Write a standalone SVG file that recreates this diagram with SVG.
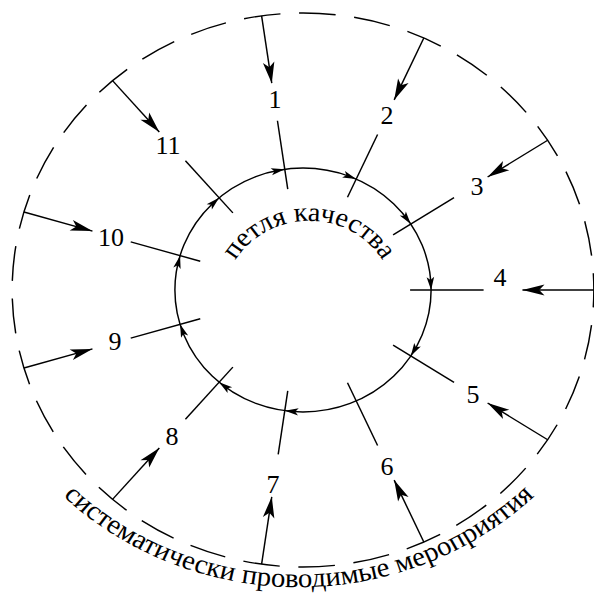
<svg xmlns="http://www.w3.org/2000/svg" xmlns:xlink="http://www.w3.org/1999/xlink" width="594" height="595" viewBox="0 0 594 595">
<style>
.ln{stroke:#000;stroke-width:1.4;fill:none}
.dash{stroke:#000;stroke-width:1.4;fill:none;stroke-dasharray:35 17.74;stroke-dashoffset:17.5}
.t{font-family:"Liberation Serif","Times New Roman",serif;fill:#000}
.num{font-size:26px;text-anchor:middle}
</style>
<defs>
<marker id="a" markerUnits="userSpaceOnUse" orient="auto" markerWidth="30" markerHeight="20" refX="0" refY="0" overflow="visible">
<path d="M0,0 L-21,-5.5 L-16,0 L-21,5.5 Z" fill="#000"/>
</marker>
<path id="sa" d="M0,0 L-13,-3.6 L-10,0 L-13,3.6 Z" fill="#000"/>
<path id="innerTextPath" d="M-76.3,12.8 A82,82 0 0 1 87.7,12.8"/>
<path id="outerTextPath" d="M-326,-24.8 A322,322 0 0 0 318,-24.8"/>
</defs>
<rect width="594" height="595" fill="#fff"/>
<g transform="translate(303,290) scale(1.05,1)">
<g id="ring">
<circle class="dash" cx="0" cy="0" r="277"/>
<text class="t" font-size="27.5"><textPath href="#outerTextPath" xlink:href="#outerTextPath" startOffset="50%" text-anchor="middle">систематически проводимые мероприятия</textPath></text>
</g>
<g id="loop">
<circle class="ln" cx="0" cy="0" r="122"/>
<use href="#sa" xlink:href="#sa" transform="rotate(-8.182) translate(0,-122) rotate(-3)"/>
<use href="#sa" xlink:href="#sa" transform="rotate(24.545) translate(0,-122) rotate(-3)"/>
<use href="#sa" xlink:href="#sa" transform="rotate(57.273) translate(0,-122) rotate(-3)"/>
<use href="#sa" xlink:href="#sa" transform="rotate(90) translate(0,-122) rotate(-3)"/>
<use href="#sa" xlink:href="#sa" transform="rotate(122.727) translate(0,-122) rotate(-3)"/>
<use href="#sa" xlink:href="#sa" transform="rotate(188.182) translate(0,-122) rotate(-3)"/>
<use href="#sa" xlink:href="#sa" transform="rotate(220.909) translate(0,-122) rotate(-3)"/>
<use href="#sa" xlink:href="#sa" transform="rotate(253.636) translate(0,-122) rotate(-3)"/>
<use href="#sa" xlink:href="#sa" transform="rotate(286.364) translate(0,-122) rotate(-3)"/>
<use href="#sa" xlink:href="#sa" transform="rotate(319.091) translate(0,-122) rotate(-3)"/>
<text class="t" font-size="27"><textPath href="#innerTextPath" xlink:href="#innerTextPath" startOffset="50%" text-anchor="middle">петля качества</textPath></text>
</g>
<g id="connectors">
<g transform="rotate(-8.182)"><line class="ln" x1="0" y1="-277" x2="0" y2="-209" marker-end="url(#a)"/><line class="ln" x1="0" y1="-171" x2="0" y2="-102"/></g>
<g transform="rotate(24.545)"><line class="ln" x1="0" y1="-277" x2="0" y2="-209" marker-end="url(#a)"/><line class="ln" x1="0" y1="-171" x2="0" y2="-102"/></g>
<g transform="rotate(57.273)"><line class="ln" x1="0" y1="-277" x2="0" y2="-209" marker-end="url(#a)"/><line class="ln" x1="0" y1="-171" x2="0" y2="-102"/></g>
<g transform="rotate(90)"><line class="ln" x1="0" y1="-277" x2="0" y2="-209" marker-end="url(#a)"/><line class="ln" x1="0" y1="-172" x2="0" y2="-102"/></g>
<g transform="rotate(122.727)"><line class="ln" x1="0" y1="-277" x2="0" y2="-209" marker-end="url(#a)"/><line class="ln" x1="0" y1="-171" x2="0" y2="-102"/></g>
<g transform="rotate(155.455)"><line class="ln" x1="0" y1="-277" x2="0" y2="-209" marker-end="url(#a)"/><line class="ln" x1="0" y1="-171" x2="0" y2="-102"/></g>
<g transform="rotate(188.182)"><line class="ln" x1="0" y1="-277" x2="0" y2="-209" marker-end="url(#a)"/><line class="ln" x1="0" y1="-166" x2="0" y2="-102"/></g>
<g transform="rotate(220.909)"><line class="ln" x1="0" y1="-277" x2="0" y2="-209" marker-end="url(#a)"/><line class="ln" x1="0" y1="-171" x2="0" y2="-102"/></g>
<g transform="rotate(253.636)"><line class="ln" x1="0" y1="-277" x2="0" y2="-209" marker-end="url(#a)"/><line class="ln" x1="0" y1="-171" x2="0" y2="-102"/></g>
<g transform="rotate(286.364)"><line class="ln" x1="0" y1="-277" x2="0" y2="-209" marker-end="url(#a)"/><line class="ln" x1="0" y1="-171" x2="0" y2="-102"/></g>
<g transform="rotate(319.091)"><line class="ln" x1="0" y1="-277" x2="0" y2="-209" marker-end="url(#a)"/><line class="ln" x1="0" y1="-171" x2="0" y2="-102"/></g>
</g>
</g>
<g id="n1"><text class="t num" x="275" y="108">1</text></g>
<g id="n2"><text class="t num" x="387" y="124">2</text></g>
<g id="n3"><text class="t num" x="477" y="195">3</text></g>
<g id="n4"><text class="t num" x="500" y="286">4</text></g>
<g id="n5"><text class="t num" x="473" y="403">5</text></g>
<g id="n6"><text class="t num" x="387" y="475">6</text></g>
<g id="n7"><text class="t num" x="273" y="493">7</text></g>
<g id="n8"><text class="t num" x="172" y="445">8</text></g>
<g id="n9"><text class="t num" x="115" y="350">9</text></g>
<g id="n10"><text class="t num" x="111" y="246">10</text></g>
<g id="n11"><text class="t num" x="168" y="154">11</text></g>
</svg>
